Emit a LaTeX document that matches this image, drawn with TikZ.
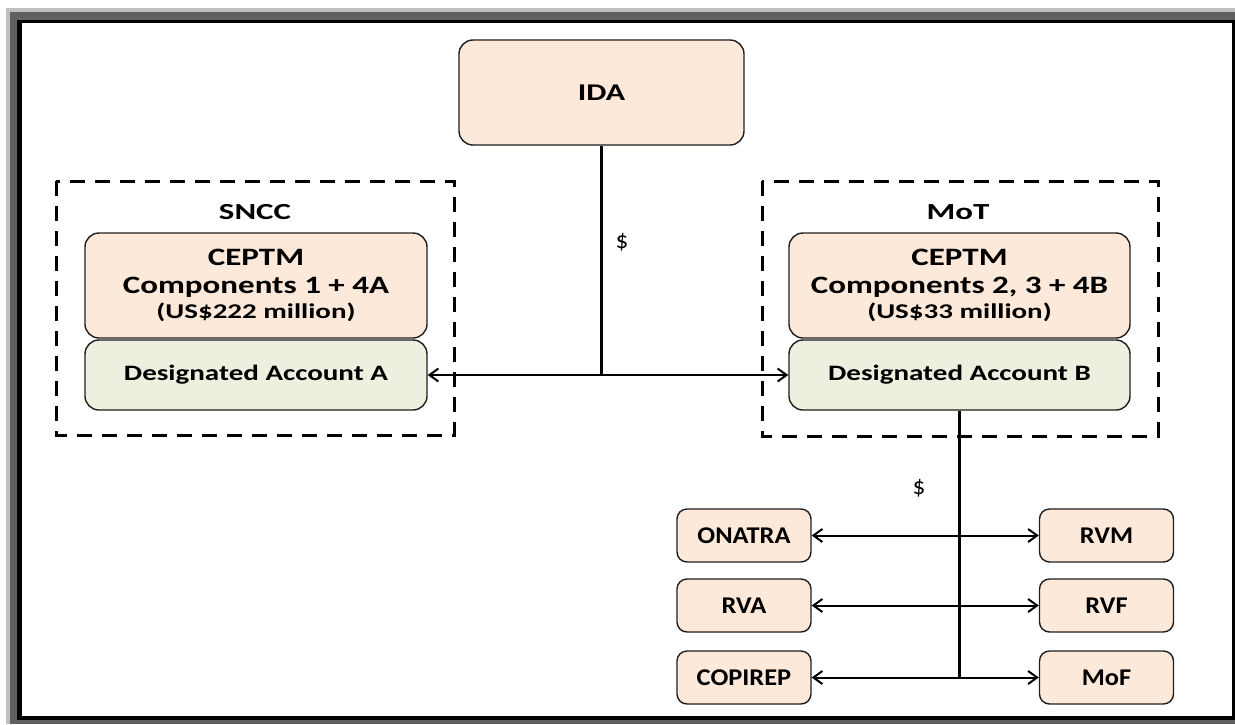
\documentclass[tikz,border=0pt]{standalone}
\usepackage{fontspec}
\setmainfont{Carlito}
\usetikzlibrary{arrows.meta}
\definecolor{peach}{HTML}{FCE9DA}
\definecolor{sage}{HTML}{EBF1DE}
\definecolor{edge}{HTML}{1E1E1E}
\definecolor{framelight}{HTML}{C0C0C0}
\definecolor{framedark}{HTML}{606060}
\newcommand\W[2][1.32]{\scalebox{#1}[1]{#2}}
\tikzset{
  box/.style={draw=edge, line width=1.4pt, rounded corners=14pt, fill=peach, inner sep=0pt, align=center, font=\bfseries},
  acct/.style={box, fill=sage, font=\bfseries\fontsize{22}{24}\selectfont},
  small/.style={box, rounded corners=10pt, minimum width=134pt, minimum height=53pt, font=\bfseries\fontsize{24}{26}\selectfont},
  group/.style={draw=black, line width=3pt, dash pattern=on 15pt off 10pt},
  link/.style={draw=black, line width=2.4pt},
  biarrow/.style={draw=black, line width=2pt, {Straight Barb[length=9pt,width=13pt]}-{Straight Barb[length=9pt,width=13pt]}},
  grouplabel/.style={font=\bfseries\fontsize{23}{24}\selectfont},
  boxtitle/.style={anchor=base, inner sep=0pt, font=\bfseries\fontsize{25}{26}\selectfont},
  boxsum/.style={anchor=base, inner sep=0pt, font=\bfseries\fontsize{21}{22}\selectfont},
  money/.style={font=\fontsize{24}{26}\selectfont},
}
\begin{document}
\begin{tikzpicture}[x=1pt,y=-1pt]
\useasboundingbox (0,0) rectangle (1235,724);
% frame
\fill[framelight] (6,8) rectangle (1235,724);
\fill[framedark] (10,12) rectangle (1235,724);
\fill[black] (17,20) rectangle (1235,720);
\fill[white] (22,23) rectangle (1232,716);

% dashed groups
\draw[group] (56,181) rectangle (454,435);
\draw[group] (762,181) rectangle (1158,436);
\node[grouplabel] (sncc) at (255,212) {\W[1.43]{SNCC}};
\node[grouplabel] (mot) at (958,212) {\W[1.43]{MoT}};

% IDA
\node[box, minimum width=285pt, minimum height=105pt, font=\bfseries\fontsize{24}{26}\selectfont] (ida) at (601.5,92.5) {\W[1.33]{IDA}};

% CEPTM boxes
\node[box, minimum width=342pt, minimum height=105pt] (ceptmA) at (256,285.5) {};
\node[boxtitle] (ceptmA1) at (256,265) {\W{CEPTM}};
\node[boxtitle] (ceptmA2) at (256,293) {\W{Components 1 + 4A}};
\node[boxsum] (ceptmA3) at (256,318) {\W[1.38]{(US\$222 million)}};
\node[acct, minimum width=342pt, minimum height=70pt] (daA) at (256,375) {\W{Designated Account A}};

\node[box, minimum width=341pt, minimum height=105pt] (ceptmB) at (959.5,285.5) {};
\node[boxtitle] (ceptmB1) at (959.5,265) {\W{CEPTM}};
\node[boxtitle] (ceptmB2) at (959.5,293) {\W{Components 2, 3 + 4B}};
\node[boxsum] (ceptmB3) at (959.5,318) {\W[1.38]{(US\$33 million)}};
\node[acct, minimum width=341pt, minimum height=70pt] (daB) at (959.5,375) {\W{Designated Account B}};

% small boxes
\node[small] (onatra) at (744,535.5) {\W[1.1]{ONATRA}};
\node[small] (rva) at (744,605.5) {\W[1.1]{RVA}};
\node[small] (copirep) at (744,677.5) {\W[1.1]{COPIREP}};
\node[small] (rvm) at (1106.5,535.5) {\W[1.1]{RVM}};
\node[small] (rvf) at (1106.5,605.5) {\W[1.1]{RVF}};
\node[small] (mof) at (1106.5,677.5) {\W[1.1]{MoF}};

% connectors
\coordinate (j1) at (ida.south |- daA.east);
\draw[link] (ida.south) -- (j1);
\draw[biarrow] (daA.east) -- (daB.west);
\node[money] (d1) at (622,242) {\W[1.05]{\$}};

\coordinate (j2) at (daB.south |- copirep.east);
\draw[link] (daB.south) -- (j2);
\draw[biarrow] (onatra.east) -- (rvm.west);
\draw[biarrow] (rva.east) -- (rvf.west);
\draw[biarrow] (copirep.east) -- (mof.west);
\node[money] (d2) at (919,488) {\W[1.05]{\$}};
\end{tikzpicture}
\end{document}
